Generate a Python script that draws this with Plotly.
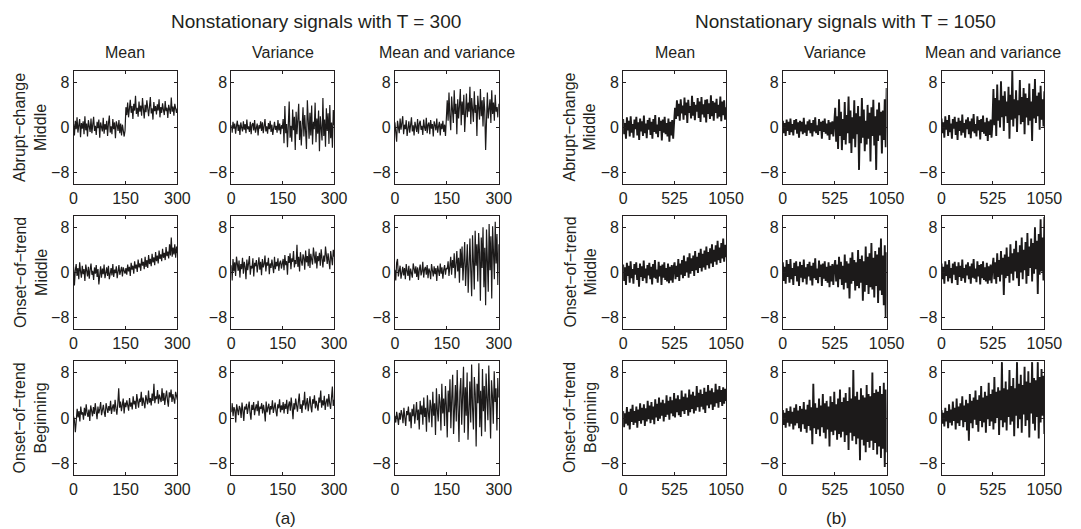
import numpy as np
import plotly.graph_objects as go

# ---------------- data ----------------
T_LEFT = 300
T_RIGHT = 1050
x_ticks_left = [0, 150, 300]
x_ticks_right = [0, 525, 1050]
y_ticks = [-8, 0, 8]
y_tick_text = ["\u22128", "0", "8"]

col_titles = ["Mean", "Variance", "Mean and variance"]
row_titles = ["Abrupt\u2212change<br>Middle", "Onset\u2212of\u2212trend<br>Middle", "Onset\u2212of\u2212trend<br>Beginning"]
group_titles = ["Nonstationary signals with T = 300", "Nonstationary signals with T = 1050"]
panel_labels = ["(a)", "(b)"]

# ---- T = 300 signals ----
abrupt_mean_300 = [0.6, -1.4, 1.2, -0.3, 1.8, -0.9, 0.4, 1.5, -1.7, 0.8, -0.2, 1.1, -1.2, 2.0, -0.5, 0.7, -1.6, 1.3, 0.2, -0.8,
                   1.6, -1.0, 0.5, 1.9, -0.6, 0.3, -1.3, 1.0, -0.1, 1.4, -1.8, 0.9, 0.1, -0.7, 1.7, -1.1, 0.6, -0.4, 1.2, -1.5,
                   0.8, 2.1, -0.9, 0.2, -1.2, 1.5, -0.3, 0.9, -1.9, 1.1, 0.4, -0.6, 1.3, -1.0, 0.7, -1.4, 0.5, -0.8, -1.6, -0.5,
                   3.6, 2.2, 4.4, 1.8, 3.1, 4.9, 2.6, 3.8, 1.5, 4.2, 3.0, 5.6, 2.4, 3.5, 1.9, 4.6, 2.8, 3.9, 2.1, 5.2,
                   3.3, 1.6, 4.0, 2.7, 4.8, 3.2, 2.0, 3.7, 5.4, 2.5, 3.4, 1.4, 4.5, 2.9, 3.8, 2.3, 4.1, 3.0, 5.0, 1.8,
                   3.6, 2.6, 4.3, 3.1, 2.2, 4.7, 2.9, 3.5, 1.7, 4.0, 3.3, 2.4, 5.3, 2.8, 3.7, 2.1, 4.2, 3.0, 2.6, 3.4]
abrupt_var_300 = [0.4, -0.9, 1.0, -0.2, 0.7, -1.1, 0.3, 1.2, -0.6, 0.5, -1.3, 0.9, 0.0, -0.7, 1.1, -0.4, 0.6, -1.0, 1.4, -0.3,
                  0.2, -0.8, 1.0, -1.2, 0.5, 0.8, -0.5, 1.3, -0.9, 0.1, 0.7, -1.4, 0.4, -0.2, 1.1, -0.6, 0.9, -1.0, 0.3, 1.5,
                  -0.7, 0.2, -1.1, 0.8, -0.3, 1.2, -0.8, 0.5, -1.3, 0.6, 1.0, -0.4, 0.3, -0.9, 1.3, -0.5, 0.7, -1.2, 0.4, -0.2,
                  1.5, -2.8, 3.8, -1.0, 0.6, -3.5, 2.4, 4.6, -1.8, 0.3, -2.5, 3.2, -0.5, 1.9, -4.0, 2.8, -1.2, 0.8, 4.2, -2.2,
                  1.2, -3.2, 0.4, 3.6, -1.6, 2.2, -0.8, -3.8, 4.8, 0.5, -2.0, 2.6, -1.4, 3.9, -3.0, 1.0, -0.3, 4.4, -2.6, 1.6,
                  -1.1, 3.0, -4.2, 2.0, 0.2, -2.3, 5.2, -1.5, 1.4, -3.4, 3.4, -0.6, 2.5, -2.9, 4.0, -1.9, 0.9, -3.6, 3.1, 0.4]
abrupt_meanvar_300 = [0.9, -0.6, -2.5, 1.2, 0.3, -1.0, 1.6, -0.4, 0.8, 2.0, -1.2, 0.5, -0.3, 1.3, -1.5, 0.6, 1.1, -0.9, 0.2, 1.8,
                      -0.7, 0.4, -1.4, 1.0, 0.1, -0.8, 1.5, -1.1, 0.7, 1.2, -0.4, 0.3, -1.3, 1.4, 0.0, -0.6, 1.7, -1.0, 0.5, 0.9,
                      -1.2, 1.3, -0.2, 0.6, -1.6, 1.1, 0.4, -0.5, 1.6, -0.9, 0.2, 1.0, -1.4, 0.7, -0.3, 1.2, -0.8, 0.5, -1.5, 0.9,
                      4.8, 1.2, 6.2, 2.0, -0.5, 5.5, 3.0, 0.8, 6.6, 2.4, 4.2, -1.2, 5.0, 1.6, 3.8, 6.8, 0.4, 4.6, 2.2, 5.8,
                      -0.8, 3.4, 6.0, 1.8, 4.4, 2.8, 7.2, 0.6, 5.2, 3.2, 1.0, 6.4, 2.6, 4.0, -1.5, 5.6, 3.6, 1.4, 6.8, 2.0,
                      4.8, 0.2, 5.4, 3.0, -4.0, 4.2, 6.2, 1.6, 3.8, 5.0, 0.8, 6.6, 2.4, 4.4, 1.2, 5.8, 2.8, 3.6, 1.8, 4.2]
onsetmid_mean_300 = [1.0, -2.3, 0.4, 1.5, -0.6, 0.8, -1.2, 1.8, 0.2, -0.9, 1.2, -0.3, 0.6, -1.5, 1.4, 0.0, -0.7, 1.0, -1.1, 0.5,
                     1.6, -0.4, 0.3, -1.3, 0.9, -0.2, 1.3, -0.8, 0.6, -2.1, 0.2, 1.1, -0.9, 0.7, -0.3, 1.4, -1.0, 0.4, 0.9, -0.6,
                     1.2, -1.2, 0.3, 0.8, -0.5, 1.5, -0.8, 0.5, -0.1, 1.1, -1.0, 0.6, 1.3, -0.4, 0.2, 1.0, -0.7, 0.9, 0.3, -0.2,
                     0.8, -0.4, 1.4, 0.2, 1.0, -0.6, 1.7, 0.5, 1.2, -0.2, 2.0, 0.7, 1.4, 0.1, 2.3, 0.9, 1.6, 0.3, 2.5, 1.2,
                     1.9, 0.6, 2.8, 1.0, 2.2, 0.8, 3.1, 1.5, 2.4, 1.1, 3.3, 1.8, 2.7, 1.3, 3.6, 2.0, 3.0, 1.6, 3.9, 2.4,
                     3.2, 2.0, 4.2, 2.6, 3.5, 2.2, 4.5, 2.9, 3.7, 2.5, 5.0, 3.0, 6.2, 2.8, 4.4, 3.2, 5.0, 2.6, 4.6, 3.4]
onsetmid_var_300 = [1.3, -1.4, 2.4, 0.2, 1.8, -0.6, 2.8, 0.9, 0.3, 2.1, -0.9, 1.5, 0.6, 2.6, -0.2, 1.9, 1.0, -1.2, 2.3, 0.4,
                    1.6, 2.9, -0.4, 1.2, 0.7, 2.5, -0.7, 1.7, 1.1, 2.2, 0.0, 1.4, 2.7, 0.5, 1.9, -0.5, 2.4, 0.9, 1.5, 3.0,
                    0.2, 1.8, 1.2, 2.6, -0.3, 1.6, 0.8, 2.3, 1.4, -0.1, 2.8, 0.6, 1.9, 1.1, 2.5, 0.3, 1.7, 2.1, 0.7, 1.5,
                    2.4, 0.4, 3.1, 1.3, 2.0, -0.4, 2.9, 1.7, 3.4, 0.6, 2.5, 1.9, 3.8, 0.9, 2.2, 1.5, 4.9, 1.0, 2.8, 0.2,
                    3.6, 2.1, 1.2, 3.2, 2.6, 0.5, 3.9, 1.8, 2.9, 1.1, 4.2, 0.8, 3.3, 2.3, 1.4, 4.4, 2.6, 1.6, 3.7, 0.7,
                    2.9, 2.0, 3.5, 1.2, 4.1, 2.4, 0.9, 3.0, 1.9, 4.6, 2.7, 1.5, 3.4, 2.2, 0.6, 3.8, 2.5, 1.3, 4.0, 2.8]
onsetmid_meanvar_300 = [0.5, -1.4, 1.7, 2.4, -0.7, 0.6, 1.2, -1.1, 0.2, 1.0, -0.5, 0.8, -1.2, 1.5, 0.3, -0.6, 1.2, -1.4, 0.7, 0.1,
                        -0.9, 1.6, 0.4, -0.2, 1.1, -0.8, 0.9, -1.3, 0.5, 1.4, -0.5, 0.2, 1.9, -0.9, 0.6, 1.0, -0.4, 1.3, -1.0, 0.7,
                        0.2, -1.2, 1.5, 0.4, -0.7, 1.1, -0.3, 0.8, -1.5, 1.2, 0.3, -0.6, 1.6, -0.2, 0.9, -1.1, 0.5, 1.3, -0.4, 0.8,
                        0.6, 2.0, -0.6, 1.6, 2.8, -0.4, 2.2, 0.8, 3.4, -1.0, 1.4, 3.8, 0.2, 2.6, -1.8, 4.2, 0.8, 4.6, -1.4, 3.0,
                        5.4, -2.4, 1.8, 5.0, -3.6, 3.2, 6.0, 0.2, -4.2, 6.6, 2.4, -3.0, 7.4, 1.2, 5.0, -1.6, 7.0, 3.6, -5.0, 6.2,
                        0.8, 8.0, -2.6, 4.4, -5.8, 7.6, 2.0, -3.4, 8.6, 0.4, 6.4, -4.6, 8.2, 3.0, -1.2, 9.0, 1.6, 6.8, -2.2, 5.0]
onsetbeg_mean_300 = [0.3, -0.4, -2.5, 0.8, 1.6, 0.1, 1.2, -0.6, 2.0, 0.6, 1.0, -0.3, 1.8, 0.4, 2.4, 0.9, 0.2, 1.5, -0.5, 2.2,
                     1.1, 0.3, 1.9, 0.7, 2.6, 1.2, -0.2, 2.0, 0.8, 1.6, 2.8, 0.5, 1.4, 2.3, 1.0, 0.2, 2.6, 1.5, 0.9, 2.1,
                     1.3, 3.0, 0.7, 1.8, 2.4, 1.1, 3.2, 1.6, 0.6, 2.5, 5.2, 1.8, 2.9, 1.2, 2.2, 3.4, 0.8, 2.7, 1.9, 3.1,
                     2.2, 1.3, 3.5, 2.0, 2.7, 1.5, 3.8, 2.4, 3.0, 1.6, 4.2, 2.6, 1.8, 3.4, 2.8, 4.6, 2.1, 3.6, 2.9, 1.7,
                     4.0, 3.2, 2.4, 4.8, 2.7, 3.5, 2.2, 4.3, 3.0, 6.0, 2.6, 3.8, 3.3, 4.9, 2.5, 4.1, 3.4, 2.8, 5.2, 3.0,
                     4.4, 2.3, 3.7, 4.8, 3.1, 2.0, 4.5, 3.6, 5.0, 2.8, 4.2, 3.5, 2.5, 4.6, 3.8, 3.2]
onsetbeg_var_300 = [1.0, 2.6, 0.3, 1.9, 1.4, -0.8, 2.4, 1.1, 0.5, 2.1, 1.7, 0.0, 2.7, 1.3, -0.5, 2.0, 1.5, 2.5, 0.7, 1.8,
                    2.9, 0.9, -0.3, 2.3, 1.4, 2.8, 0.5, 1.7, 2.4, 1.2, 3.0, 0.4, 2.0, 1.6, 2.6, 0.8, 2.3, 1.3, -0.6, 2.9,
                    1.0, 1.8, 2.5, 0.6, 2.1, 1.5, 3.1, 0.9, 1.9, 2.7, 1.2, 0.3, 2.4, 1.7, 3.3, 1.0, 2.2, 1.4, 2.8, 0.8,
                    2.5, 1.6, 3.2, 0.7, 2.2, 2.9, 1.3, 3.6, 1.9, -0.2, 2.6, 1.5, 3.4, 2.0, 1.1, 2.8, 4.3, 1.6, 2.4, 0.9,
                    3.1, 2.2, 4.6, 1.5, 2.9, 3.5, 1.2, 2.6, 3.8, 2.0, 1.0, 3.3, 2.5, 4.0, 1.7, 3.0, 2.3, 1.3, 3.6, 2.7,
                    4.8, 1.8, 3.1, 2.2, 3.9, 1.4, 2.8, 3.4, 2.0, 4.2, 2.6, 1.6, 3.5, 5.5, 2.1, 3.2]
onsetbeg_meanvar_300 = [0.4, -0.8, 1.1, 0.2, -1.2, 0.9, -0.3, 1.4, 0.6, -0.9, 1.8, 0.1, -1.4, 1.2, 0.5, 2.0, -0.6, 1.0, -1.8, 1.6,
                        0.3, 2.4, -1.0, 0.8, 2.8, -0.4, 1.5, -2.0, 3.0, 0.6, 2.2, -1.2, 3.6, 0.2, 1.8, -2.4, 4.0, 1.0, -0.8, 3.2,
                        2.0, -1.6, 4.6, 0.4, 2.6, -3.0, 5.2, 1.4, -0.6, 4.2, 2.8, -2.2, 6.0, 0.8, 3.4, -1.4, 5.6, 2.2, -3.4, 4.8,
                        1.0, 6.8, -1.8, 3.6, 7.6, -2.8, 2.4, 5.8, -0.6, 8.4, 1.6, -4.2, 4.6, 7.0, -1.2, 3.0, 9.0, -2.6, 5.4, 0.4,
                        8.0, -3.8, 2.8, 6.4, -0.8, 9.4, 1.8, -2.0, 7.2, 4.2, -5.0, 6.0, 2.6, 9.6, -1.6, 4.8, -3.2, 8.6, 1.2, 5.6,
                        -2.4, 7.8, 3.4, -0.4, 9.2, 2.0, -3.6, 6.6, 4.0, -1.0, 8.2, 2.8, 5.2, -2.2, 7.0, 3.6]

# ---- T = 1050 signals ----
abrupt_mean_1050 = [1.5, -1.2, 0.8, -2.0, 1.8, -0.5, 1.2, -1.6, 2.0, -0.9, 0.6, -1.8, 1.4, -0.3, 1.9, -1.4, 0.9, -2.2, 1.6,
                    -0.7, 1.1, -1.5, 2.1, -1.0, 0.7, -1.9, 1.3, -0.4, 1.7, -1.3, 1.0, -2.0, 1.5, -0.8, 2.2, -1.1, 0.5,
                    -1.7, 1.8, -0.6, 1.2, -2.3, 1.4, -0.9, 1.9, -1.2, 0.8, -1.6, 1.6, -2.5, 1.0, -1.4, 1.3, -2.0, 0.9,
                    3.5, 1.5, 4.8, 2.0, 4.2, 1.2, 5.0, 2.5, 3.9, 1.4, 5.3, 2.2, 4.4, 0.8, 4.9, 2.6, 3.8, 1.6, 5.6, 2.1,
                    4.5, 1.3, 4.0, 2.8, 5.2, 1.7, 4.6, 1.0, 5.4, 2.3, 4.1, 1.8, 4.9, 0.9, 5.0, 2.4, 4.3, 1.5, 5.7, 2.0,
                    4.7, 1.2, 4.4, 2.6, 5.1, 1.6, 4.0, 1.9, 5.5, 1.1, 4.6, 2.2, 4.8, 1.4, 3.6]
abrupt_var_1050 = [1.2, -1.0, 0.8, -1.5, 1.4, -0.6, 1.0, -1.3, 1.6, -0.8, 0.6, -1.4, 1.3, -0.4, 1.5, -1.1, 0.9, -1.8, 1.2,
                   -0.7, 1.0, -1.2, 1.7, -0.9, 0.5, -1.5, 1.1, -0.5, 1.4, -1.0, 0.8, -1.6, 1.3, -0.7, 1.8, -1.0, 0.4,
                   -1.3, 1.5, -0.6, 1.0, -2.0, 1.2, -0.8, 1.6, -1.1, 0.7, -1.4, 1.3, -2.2, 0.9, -1.2, 1.1, -1.6, 0.8,
                   3.5, -2.5, 2.0, -3.8, 5.0, -1.5, 2.8, -4.0, 1.5, -2.2, 4.5, -3.0, 2.2, -1.0, 5.5, -2.8, 3.0, -4.5,
                   1.8, -2.0, 4.8, -3.5, 2.5, -1.2, 3.8, -7.5, 2.0, -2.8, 5.2, -1.8, 3.2, -4.2, 1.2, -3.0, 4.0, -2.0,
                   2.6, -6.0, 3.6, -1.5, 4.9, -3.2, 2.0, -7.5, 3.2, -2.4, 4.4, -1.4, 2.8, -4.6, 3.0, -2.2, 5.0, -3.5, 7.0]
abrupt_meanvar_1050 = [1.6, -1.0, 0.9, -1.8, 2.0, -0.4, 1.3, -1.5, 2.2, -0.8, 0.7, -2.0, 1.5, -0.2, 1.9, -1.3, 1.0, -2.2,
                       1.7, -0.6, 1.2, -1.4, 2.3, -0.9, 0.8, -1.8, 1.4, -0.3, 1.8, -1.2, 1.1, -1.9, 1.6, -0.7, 2.4, -1.0,
                       0.6, -1.6, 2.0, -0.5, 1.3, -2.1, 1.5, -0.8, 2.1, -1.1, 0.9, -1.5, 1.7, -2.4, 1.1, -1.3, 1.4, -1.8, 1.0,
                       6.8, 0.4, 5.2, -1.5, 7.6, 1.2, 4.8, 0.0, 8.2, 1.8, 5.6, -0.6, 6.4, 2.0, 4.6, 0.8, 7.2, -2.0, 5.8,
                       1.4, 10.0, 0.2, 5.0, 1.6, 6.6, -0.8, 4.8, 2.2, 8.4, 0.6, 5.4, 1.0, 7.0, -1.2, 6.0, 1.8, 5.2, 0.4,
                       7.8, 1.2, 4.6, -2.4, 6.8, 1.6, 8.6, 0.8, 5.6, 2.0, 6.2, -0.4, 7.4, 1.4, 5.0, 0.2, 6.4]
onsetmid_mean_1050 = [1.4, -1.5, 0.9, -2.2, 1.7, -0.6, 1.2, -1.8, 2.0, -1.0, 0.6, -2.0, 1.5, -0.4, 1.8, -1.3, 0.8, -2.5,
                      1.6, -0.8, 1.1, -1.5, 2.1, -1.0, 0.7, -1.9, 1.3, -0.5, 1.7, -1.2, 1.0, -2.1, 1.5, -0.9, 2.2, -1.1,
                      0.5, -1.8, 1.9, -0.7, 1.2, -2.2, 1.4, -0.9, 1.8, -1.3, 0.8, -1.6, 1.6, -1.9, 1.0, -1.4, 1.3, -1.8, 0.9,
                      1.8, -1.2, 1.2, -0.8, 2.4, -1.5, 1.6, -0.4, 2.2, -1.0, 3.0, -0.6, 2.0, 0.0, 2.7, -0.9, 3.4, -0.2,
                      2.5, 0.3, 3.0, -0.6, 3.8, 0.4, 2.8, -0.1, 3.5, 0.8, 4.2, 0.2, 3.3, 0.9, 3.9, 0.5, 4.6, 1.3, 3.6, 0.7,
                      4.3, 1.6, 5.0, 1.0, 4.0, 1.9, 4.8, 1.4, 5.6, 2.2, 4.4, 1.7, 5.2, 2.5, 6.0, 1.9, 4.9, 2.7]
onsetmid_var_1050 = [1.8, -1.5, 1.0, -2.0, 2.2, -0.8, 1.5, -1.8, 2.4, -1.2, 0.8, -2.2, 1.7, -0.6, 2.0, -1.6, 1.1, -2.4, 1.9,
                     -0.9, 1.3, -1.7, 2.3, -1.1, 0.9, -2.1, 1.5, -0.7, 1.9, -1.4, 1.2, -2.3, 1.7, -1.0, 2.5, -1.3, 0.7,
                     -1.9, 2.1, -0.8, 1.4, -2.4, 1.6, -1.1, 2.0, -1.5, 1.0, -1.8, 1.8, -2.6, 1.2, -1.6, 1.5, -2.2, 1.1,
                     2.2, -1.6, 1.4, -2.6, 2.8, -1.2, 1.9, -2.2, 1.2, -3.0, 3.2, -1.8, 2.0, -2.8, 1.6, -4.6, 2.6, -2.0,
                     3.6, -1.5, 2.2, -3.2, 1.8, -2.4, 4.0, -2.8, 2.4, -1.8, 3.0, -5.0, 2.0, -3.4, 4.6, -2.2, 2.8, -3.8,
                     3.4, -2.6, 5.2, -3.0, 2.6, -4.4, 3.8, -2.4, 3.2, -5.4, 4.4, -3.2, 6.0, -4.0, 3.0, -5.8, 4.8, -8.0, 3.6]
onsetmid_meanvar_1050 = [1.6, -1.2, 1.0, -2.0, 2.0, -0.6, 1.4, -1.6, 2.2, -1.0, 0.8, -1.9, 1.6, -0.4, 1.9, -1.3, 1.1, -2.2,
                         1.8, -0.8, 1.2, -1.5, 2.3, -1.0, 0.8, -1.8, 1.4, -0.5, 1.8, -1.2, 1.1, -2.0, 1.6, -0.9, 2.4, -1.1,
                         0.7, -1.7, 2.0, -0.7, 1.3, -2.1, 1.5, -1.0, 2.0, -1.3, 0.9, -1.6, 1.7, -2.0, 1.1, -1.4, 1.4, -1.9, 1.0,
                         2.6, -1.2, 1.8, -2.0, 3.4, -0.8, 2.2, -1.6, 3.8, -0.4, 2.6, -4.0, 3.2, -1.0, 4.4, -0.6, 2.8, -1.8,
                         5.0, -0.2, 3.4, -1.4, 4.2, 0.2, 5.6, -1.0, 3.6, -2.4, 4.8, 0.0, 6.2, -1.2, 4.0, 0.4, 5.4, -2.0,
                         7.0, -0.6, 4.6, 0.8, 6.0, -1.6, 5.2, -0.2, 8.0, 0.6, 5.6, -3.8, 6.8, -0.4, 9.4, 0.2, 6.2, -1.4, 9.8]
onsetbeg_mean_1050 = [1.2, -1.6, 0.8, -1.0, 1.9, -1.3, 1.1, -2.0, 1.6, -0.7, 2.3, -1.2, 1.2, -0.8, 2.0, -1.7, 1.5, -0.5, 2.6, -1.0,
                      1.8, -0.4, 2.4, -1.4, 1.7, -0.6, 3.0, -0.2, 2.2, -0.9, 2.8, -0.3, 2.0, -1.1, 3.3, 0.1, 2.5, -0.5, 3.6, -0.1,
                      2.7, 0.4, 3.2, -0.6, 2.6, 0.2, 4.0, 0.6, 3.0, -0.3, 3.7, 0.8, 3.1, 0.3, 4.4, 0.1, 3.4, 1.0, 4.0, 0.5,
                      3.3, 0.2, 4.8, 1.2, 3.7, 0.7, 4.3, 1.4, 3.6, 0.4, 5.0, 1.0, 4.1, 1.6, 4.6, 0.8, 3.9, 1.3, 5.6, 1.9,
                      4.4, 1.1, 5.0, 2.0, 4.2, 1.5, 5.3, 0.9, 4.6, 2.2, 5.8, 1.7, 4.8, 2.4, 5.2, 1.4, 4.5, 2.0, 6.0, 2.6,
                      5.0, 1.8, 5.6, 2.8, 4.9, 2.1, 5.4, 2.5, 5.1, 3.0]
onsetbeg_var_1050 = [1.4, -1.2, 0.9, -1.7, 1.7, -0.8, 1.2, -1.5, 2.0, -1.0, 1.1, -2.0, 1.8, -1.3, 2.4, -0.9, 1.3, -1.8, 2.1, -2.4,
                     1.6, -1.1, 2.8, -1.9, 1.5, -2.6, 2.3, -1.4, 3.2, -2.2, 1.9, -4.6, 6.0, -1.8, 2.6, -2.8, 1.8, -2.0, 3.4, -3.2,
                     2.2, -1.6, 4.2, -2.6, 2.6, -3.6, 3.0, -2.0, 2.0, -5.0, 3.8, -2.4, 2.8, -3.0, 4.6, -2.2, 2.4, -3.8, 3.4, -2.8,
                     5.0, -3.4, 2.8, -2.4, 3.6, -4.2, 4.4, -3.0, 3.0, -5.6, 5.4, -2.6, 3.4, -4.0, 8.4, -3.2, 3.8, -4.6, 4.6, -3.6,
                     3.2, -7.4, 5.2, -3.8, 4.0, -4.8, 3.6, -6.0, 5.8, -4.2, 4.2, -5.2, 3.8, -4.0, 8.0, -5.6, 4.4, -4.4, 5.0, -6.4,
                     4.6, -5.0, 5.6, -7.0, 4.2, -5.4, 6.2, -8.6, 5.0, -6.0]
onsetbeg_meanvar_1050 = [1.4, -1.0, 0.9, -1.5, 1.8, -0.6, 1.2, -1.8, 2.4, -0.8, 1.5, -1.3, 2.9, -0.5, 1.8, -2.0, 3.4, -0.9, 2.0, -1.4,
                         2.6, -0.4, 3.8, -1.6, 2.2, -0.7, 3.2, -2.2, 2.6, -4.0, 4.2, -0.9, 3.0, -1.8, 3.6, -0.3, 4.8, -1.2, 3.2, -2.4,
                         4.0, -0.5, 5.6, -1.6, 3.6, -0.8, 4.6, -2.6, 3.9, -0.2, 6.2, -1.4, 4.2, -0.6, 5.0, -2.0, 7.2, -0.9, 4.6, 0.0,
                         5.4, -3.0, 4.8, -0.4, 9.8, -1.6, 5.2, -0.8, 6.4, -2.2, 5.0, 0.2, 8.4, -1.2, 5.6, -0.6, 7.0, -3.2, 5.2, 0.4,
                         9.8, -1.8, 6.0, -0.2, 7.6, -2.6, 5.8, 0.6, 9.0, -1.4, 6.4, -0.4, 8.2, -3.4, 6.2, 0.8, 9.8, -1.0, 7.0, -2.2,
                         6.6, 0.2, 9.8, -3.6, 7.2, -0.8, 8.6, 0.4, 7.4, -2.8]

grid = [
    [(abrupt_mean_300, T_LEFT), (abrupt_var_300, T_LEFT), (abrupt_meanvar_300, T_LEFT),
     (abrupt_mean_1050, T_RIGHT), (abrupt_var_1050, T_RIGHT), (abrupt_meanvar_1050, T_RIGHT)],
    [(onsetmid_mean_300, T_LEFT), (onsetmid_var_300, T_LEFT), (onsetmid_meanvar_300, T_LEFT),
     (onsetmid_mean_1050, T_RIGHT), (onsetmid_var_1050, T_RIGHT), (onsetmid_meanvar_1050, T_RIGHT)],
    [(onsetbeg_mean_300, T_LEFT), (onsetbeg_var_300, T_LEFT), (onsetbeg_meanvar_300, T_LEFT),
     (onsetbeg_mean_1050, T_RIGHT), (onsetbeg_var_1050, T_RIGHT), (onsetbeg_meanvar_1050, T_RIGHT)],
]

# ---------------- layout geometry (pixels) ----------------
W, H = 1081, 529
col_px = [(71, 177), (232, 337), (399, 505), (632, 737), (795, 901), (957, 1062)]
row_px = [(71, 184), (216, 329), (361, 475)]
FONT = "Liberation Sans, Arial, Helvetica, sans-serif"
INK = "#231f20"
LINE = "#1c1a1a"

def fx(px):
    return px / W

def fy(py):
    return 1 - py / H

fig = go.Figure()
layout = dict(
    width=W, height=H, margin=dict(l=0, r=0, t=0, b=0),
    paper_bgcolor="white", plot_bgcolor="white", showlegend=False,
    font=dict(family=FONT, size=16, color=INK),
)
annotations = []

n = 0
for r in range(3):
    for c in range(6):
        n += 1
        vals, T = grid[r][c]
        t = np.linspace(0, T, len(vals))
        xa = "x" if n == 1 else f"x{n}"
        ya = "y" if n == 1 else f"y{n}"
        lw = 1.2 if T == T_LEFT else 1.9
        fig.add_trace(go.Scatter(x=t, y=vals, mode="lines", xaxis=xa, yaxis=ya,
                                 line=dict(color=LINE, width=lw), hoverinfo="skip"))
        xt = x_ticks_left if T == T_LEFT else x_ticks_right
        axis_common = dict(showline=True, mirror="ticks", linecolor=INK, linewidth=1,
                           ticks="inside", ticklen=3, tickwidth=1, tickcolor=INK,
                           showgrid=False, zeroline=False,
                           tickfont=dict(family=FONT, size=16, color=INK))
        layout["xaxis" if n == 1 else f"xaxis{n}"] = dict(
            domain=[fx(col_px[c][0]), fx(col_px[c][1])], anchor=ya,
            range=[0, T], tickvals=xt, ticktext=[str(v) for v in xt], **axis_common)
        layout["yaxis" if n == 1 else f"yaxis{n}"] = dict(
            domain=[fy(row_px[r][1]), fy(row_px[r][0])], anchor=xa,
            range=[-10, 10], tickvals=y_ticks, ticktext=y_tick_text, **axis_common)

# column titles
for c in range(6):
    cx = (col_px[c][0] + col_px[c][1]) / 2
    annotations.append(dict(text=col_titles[c % 3], x=fx(cx), y=fy(53), xref="paper", yref="paper",
                            xanchor="center", yanchor="middle", showarrow=False,
                            font=dict(family=FONT, size=16, color=INK)))
# row titles
for g, lx in enumerate([27, 588]):
    for r in range(3):
        cy = (row_px[r][0] + row_px[r][1]) / 2
        annotations.append(dict(text=row_titles[r], x=fx(lx), y=fy(cy), xref="paper", yref="paper",
                                xanchor="center", yanchor="middle", textangle=-90, showarrow=False,
                                font=dict(family=FONT, size=16, color=INK)))
# group titles
for txt, gx in zip(group_titles, [318, 859]):
    annotations.append(dict(text=txt, x=fx(gx), y=fy(22), xref="paper", yref="paper",
                            xanchor="center", yanchor="middle", showarrow=False,
                            font=dict(family=FONT, size=19, color=INK)))
# panel labels
for txt, gx in zip(panel_labels, [287, 850]):
    annotations.append(dict(text=txt, x=fx(gx), y=fy(518), xref="paper", yref="paper",
                            xanchor="center", yanchor="middle", showarrow=False,
                            font=dict(family=FONT, size=17, color=INK)))

layout["annotations"] = annotations
fig.update_layout(**layout)
fig.write_html("out.html")
